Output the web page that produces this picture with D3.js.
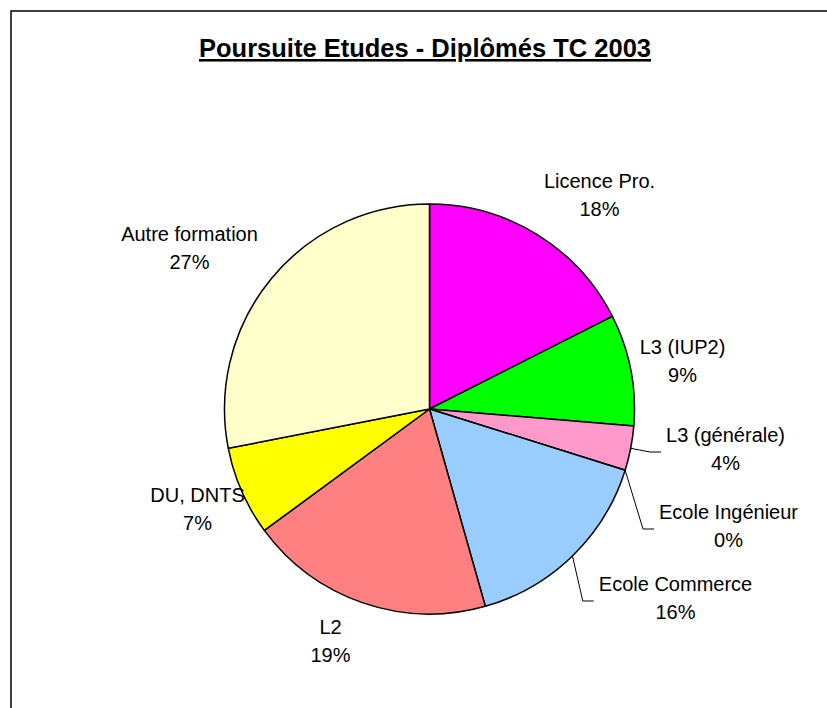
<!DOCTYPE html>
<html>
<head>
<meta charset="utf-8">
<script src="https://cdn.jsdelivr.net/npm/d3@7"></script>
<style>
  body { margin: 0; background: #fff; }
  svg { display: block; font-family: "Liberation Sans", Arial, sans-serif; }
</style>
</head>
<body>
<svg id="chart" width="827" height="708"></svg>
<script>
//
// Data
//
const categories = ['Licence Pro.', 'L3 (IUP2)', 'L3 (générale)', 'Ecole Ingénieur',
  'Ecole Commerce', 'L2', 'DU, DNTS', 'Autre formation'];
const counts = [10, 5, 2, 0, 9, 11, 4, 16]; // students per option
const percentLabels = [18, 9, 4, 0, 16, 19, 7, 27]; // as printed on the chart
const colors = ['#FF00FF', '#00FF00', '#FF99CC', '#3366FF',
  '#99CCFF', '#FF8080', '#FFFF00', '#FFFFCC'];
const title = 'Poursuite Etudes - Diplômés TC 2003';

//
// Layout
//
const cx = 429.5, cy = 409, radius = 205;
const lineGap = 28;
// label block centres, relative to the pie centre
const labelSpots = [[170, -214], [253, -48], [296, 40], [299, 117],
  [246, 189], [-99, 232], [-232, 100], [-240, -161]];
const withLeader = ['L3 (générale)', 'Ecole Ingénieur', 'Ecole Commerce'];

const svg = d3.select('#chart');

// frame (runs off the right and bottom of the page)
svg.append('rect')
    .attr('x', 11).attr('y', 11)
    .attr('width', 900).attr('height', 900)
    .attr('fill', 'none')
    .attr('stroke', '#000')
    .attr('stroke-width', 1.5);

svg.append('text')
    .attr('x', 425).attr('y', 57)
    .attr('text-anchor', 'middle')
    .style('font-size', '25.5px')
    .style('font-weight', 'bold')
    .style('text-decoration', 'underline')
    .text(title);

const pie = d3.pie().sort(null).value(d => d);
const arcs = pie(counts);
const arc = d3.arc().innerRadius(0).outerRadius(radius);

const g = svg.append('g').attr('transform', `translate(${cx},${cy})`);

g.selectAll('path.slice')
  .data(arcs)
  .join('path')
    .attr('class', 'slice')
    .attr('d', arc)
    .attr('fill', (d, i) => colors[i])
    .attr('stroke', '#000')
    .attr('stroke-width', 1.5)
    .attr('stroke-linejoin', 'round');

// labels
const labels = g.selectAll('g.label')
  .data(arcs)
  .join('g')
    .attr('class', 'label')
    .attr('transform', (d, i) => `translate(${labelSpots[i][0]},${labelSpots[i][1]})`);

labels.append('text')
    .attr('class', 'name')
    .attr('text-anchor', 'middle')
    .attr('y', -lineGap / 2 + 7)
    .style('font-size', '20px')
    .text((d, i) => categories[i]);

labels.append('text')
    .attr('text-anchor', 'middle')
    .attr('y', lineGap / 2 + 7)
    .style('font-size', '20px')
    .text((d, i) => percentLabels[i] + '%');

// leader lines for the labels pushed away from the pie
labels.each(function(d, i) {
  if (!withLeader.includes(categories[i])) return;
  const w = d3.select(this).select('text.name').node().getComputedTextLength();
  const mid = (d.startAngle + d.endAngle) / 2;
  const x0 = radius * Math.sin(mid), y0 = -radius * Math.cos(mid);
  const left = labelSpots[i][0] - w / 2;
  const yl = labelSpots[i][1] + 3;
  g.insert('path', 'g.label')
      .attr('d', d3.line()([[x0, y0], [left - 16, yl], [left - 5, yl]]))
      .attr('fill', 'none')
      .attr('stroke', '#000')
      .attr('stroke-width', 1);
});
</script>
</body>
</html>
